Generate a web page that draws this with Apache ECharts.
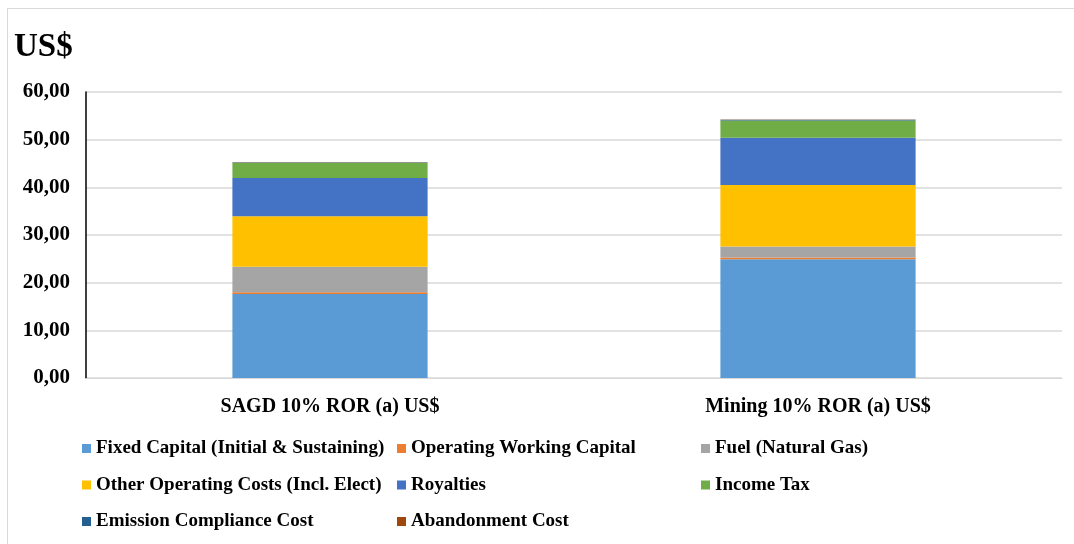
<!DOCTYPE html>
<html><head><meta charset="utf-8">
<script src="https://cdn.jsdelivr.net/npm/echarts@6/dist/echarts.min.js"></script>
<style>html,body{margin:0;padding:0;background:#fff}#c{width:1074px;height:544px}</style>
</head><body><div id="c"></div>
<script>
const categories = ['SAGD 10% ROR (a) US$', 'Mining 10% ROR (a) US$'];
const seriesNames = ['Fixed Capital (Initial & Sustaining)', 'Operating Working Capital', 'Fuel (Natural Gas)',
  'Other Operating Costs (Incl. Elect)', 'Royalties', 'Income Tax', 'Emission Compliance Cost', 'Abandonment Cost'];
const fixedCapital = [17.6, 24.9];
const operatingWorkingCapital = [0.4, 0.4];
const fuel = [5.35, 2.3];
const otherOperating = [10.6, 12.9];
const royalties = [8.0, 9.9];
const incomeTax = [3.15, 3.6];
const emission = [0.1, 0.2];
const abandonment = [0.05, 0.05];
const yTicks = [0, 10, 20, 30, 40, 50, 60];
const colors = ['#5B9BD5', '#ED7D31', '#A5A5A5', '#FFC000', '#4472C4', '#70AD47', '#255E91', '#9E480E'];
const values = [fixedCapital, operatingWorkingCapital, fuel, otherOperating, royalties, incomeTax, emission, abandonment];

const font = '"Liberation Serif", "Times New Roman", serif';
const chart = echarts.init(document.getElementById('c'));
const legendText = { fontFamily: font, fontWeight: 'bold', fontSize: 19, color: '#000' };
function legendCol(left, names) {
  return { orient: 'vertical', left: left, top: 439, itemWidth: 9, itemHeight: 9, itemGap: 17.5,
    icon: 'rect', textStyle: legendText, data: names, selectedMode: false, padding: 0 };
}
chart.setOption({
  animation: false,
  color: colors,
  title: { text: 'US$', left: 14, top: 31, padding: 0,
    textStyle: { fontFamily: font, fontWeight: 'bold', fontSize: 33, color: '#000' } },
  graphic: [
    { type: 'line', shape: { x1: 7, y1: 8.5, x2: 1074, y2: 8.5 }, style: { stroke: '#d9d9d9', lineWidth: 1 } },
    { type: 'line', shape: { x1: 7.5, y1: 8, x2: 7.5, y2: 544 }, style: { stroke: '#d9d9d9', lineWidth: 1 } }
  ],
  grid: { left: 86, right: 12, top: 92, bottom: 166, containLabel: false },
  legend: [
    legendCol(82, [seriesNames[0], seriesNames[3], seriesNames[6]]),
    legendCol(397, [seriesNames[1], seriesNames[4], seriesNames[7]]),
    legendCol(701, [seriesNames[2], seriesNames[5]])
  ],
  xAxis: { type: 'category', data: categories,
    axisLine: { lineStyle: { color: '#d9d9d9', width: 1 } }, axisTick: { show: false },
    axisLabel: { fontFamily: font, fontWeight: 'bold', fontSize: 20, color: '#000', margin: 19 } },
  yAxis: { type: 'value', min: 0, max: 60, interval: 10,
    axisLine: { show: true, lineStyle: { color: '#000', width: 1.5 } }, axisTick: { show: false },
    splitLine: { lineStyle: { color: '#d9d9d9', width: 1.5 } },
    axisLabel: { fontFamily: font, fontWeight: 'bold', fontSize: 21, color: '#000', margin: 16,
      formatter: v => yTicks.includes(v) ? v.toFixed(2).replace('.', ',') : '' } },
  series: seriesNames.map((n, i) => ({ name: n, type: 'bar', stack: 'total', barWidth: '40%',
    data: values[i], itemStyle: { color: colors[i] } }))
});
</script></body></html>
